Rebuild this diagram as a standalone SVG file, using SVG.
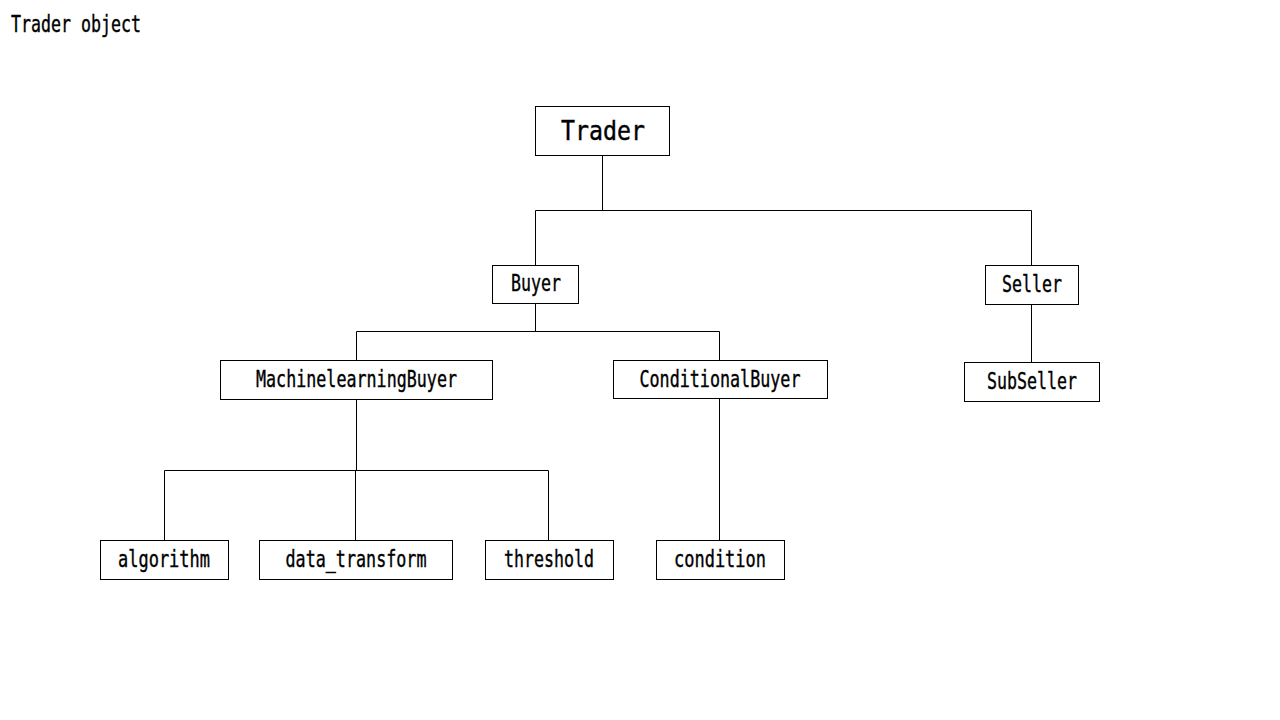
<svg xmlns="http://www.w3.org/2000/svg" width="1280" height="720" viewBox="0 0 1280 720">
<style>
.box{fill:#fff;stroke:#000;stroke-width:1}
.lbl{font-family:"DejaVu Sans Mono","Liberation Mono",monospace;font-size:23px;fill:#000;stroke:#000;stroke-width:0.4;text-anchor:middle}
.big{font-size:27px}
.title{font-family:"DejaVu Sans Mono","Liberation Mono",monospace;font-size:23px;fill:#000;stroke:#000;stroke-width:0.4}
.conn{fill:none;stroke:#000;stroke-width:1}
</style>
<rect width="1280" height="720" fill="#fff"/>
<text class="title" x="11" y="32" textLength="130" lengthAdjust="spacingAndGlyphs">Trader object</text>
<g id="connectors">
<path class="conn" d="M602.5,155.5V210.5M535.5,265V210.5H1031.5V265"/>
<path class="conn" d="M535.5,303.5V331.5M356.5,360V331.5H719.5V360"/>
<path class="conn" d="M1031.5,304.5V362"/>
<path class="conn" d="M356.5,399.5V470.5M164.5,540V470.5H548.5V540M355.5,470.5V540"/>
<path class="conn" d="M719.5,398.5V540"/>
</g>
<g id="trader"><rect class="box" x="535.5" y="106.5" width="134" height="49"/><text class="lbl big" x="603" y="140" textLength="84" lengthAdjust="spacingAndGlyphs">Trader</text></g>
<g id="buyer"><rect class="box" x="492.5" y="265.5" width="86" height="38"/><text class="lbl" x="536" y="291" textLength="50" lengthAdjust="spacingAndGlyphs">Buyer</text></g>
<g id="seller"><rect class="box" x="985.5" y="265.5" width="93" height="39"/><text class="lbl" x="1032" y="292" textLength="60" lengthAdjust="spacingAndGlyphs">Seller</text></g>
<g id="mlbuyer"><rect class="box" x="220.5" y="360.5" width="272" height="39"/><text class="lbl" x="356.5" y="387" textLength="201" lengthAdjust="spacingAndGlyphs">MachinelearningBuyer</text></g>
<g id="condbuyer"><rect class="box" x="613.5" y="360.5" width="214" height="38"/><text class="lbl" x="720" y="387" textLength="161" lengthAdjust="spacingAndGlyphs">ConditionalBuyer</text></g>
<g id="subseller"><rect class="box" x="964.5" y="362.5" width="135" height="39"/><text class="lbl" x="1032" y="389" textLength="90" lengthAdjust="spacingAndGlyphs">SubSeller</text></g>
<g id="algorithm"><rect class="box" x="100.5" y="540.5" width="128" height="39"/><text class="lbl" x="164" y="567" textLength="92" lengthAdjust="spacingAndGlyphs">algorithm</text></g>
<g id="data_transform"><rect class="box" x="259.5" y="540.5" width="193" height="39"/><text class="lbl" x="356" y="567" textLength="141" lengthAdjust="spacingAndGlyphs">data_transform</text></g>
<g id="threshold"><rect class="box" x="485.5" y="540.5" width="128" height="39"/><text class="lbl" x="549" y="567" textLength="90" lengthAdjust="spacingAndGlyphs">threshold</text></g>
<g id="condition"><rect class="box" x="656.5" y="540.5" width="128" height="39"/><text class="lbl" x="720" y="567" textLength="92" lengthAdjust="spacingAndGlyphs">condition</text></g>
</svg>
